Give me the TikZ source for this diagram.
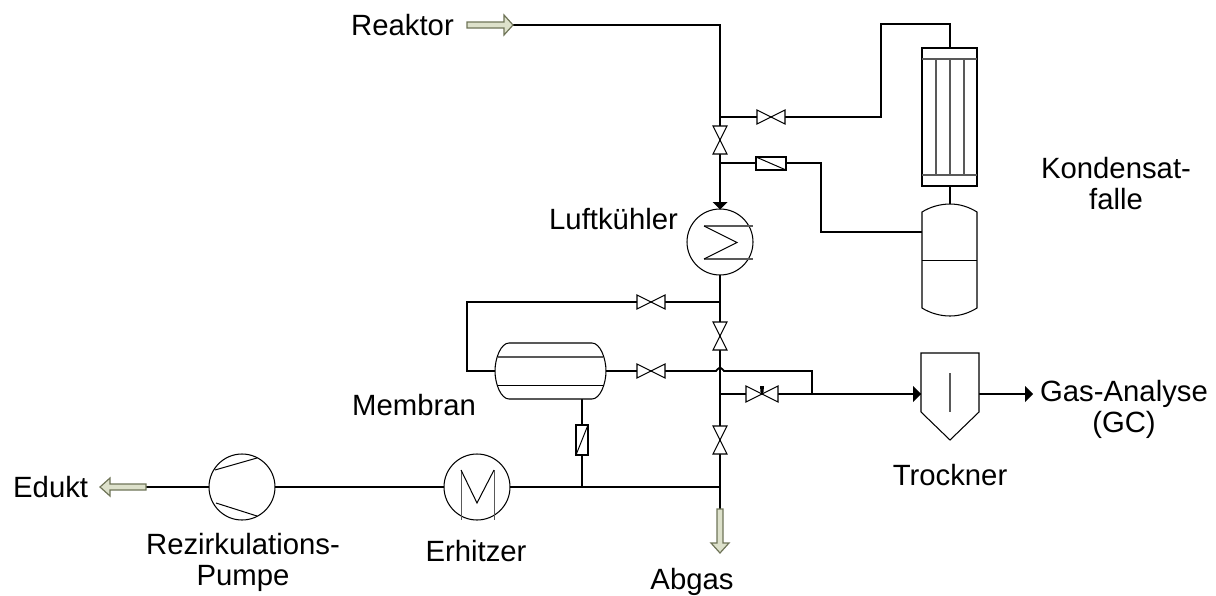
\documentclass[tikz,border=0pt]{standalone}
\usepackage{fontspec}
\setmainfont{Liberation Sans}
\definecolor{arrowfill}{HTML}{DDE1CB}
\definecolor{arrowedge}{HTML}{6F7458}
\tikzset{
  x=1pt,y=-1pt,
  pipe/.style={draw=black,line width=1.8pt},
  thin part/.style={draw=black,line width=1pt},
  grey part/.style={draw=black!65,line width=1.4pt},
  equip/.style={draw=black,line width=1.05pt,fill=white},
  feed/.style={draw=arrowedge,fill=arrowfill,line width=1.2pt},
  label/.style={font=\fontsize{29.3}{31}\selectfont,align=center,inner sep=0pt},
}
\begin{document}
\begin{tikzpicture}
\useasboundingbox (0,0) rectangle (1216,595);
% coordinates
\coordinate (Jtop) at (720,117);
\coordinate (Jcheck) at (720,163);
\coordinate (Jbypass) at (720,302);
\coordinate (Jcv) at (720,394);
\coordinate (Jbot) at (720,487);
\coordinate (Jmem) at (582,487);
\coordinate (Jout) at (812,394);
% pipes
\draw[pipe] (513,25) -- (720,25) -- (Jbot) -- (720,509);
\draw[pipe] (Jtop) -- (881,117) -- (881,24) -- (950,24) -- (950,48);
\draw[pipe] (950,186) -- (950,204);
\draw[pipe] (Jcheck) -- (821,163) -- (821,232) -- (922,232);
\draw[pipe] (Jbypass) -- (467,302) -- (467,371) -- (495,371);
\draw[pipe] (606,371) -- (716,371) .. controls (717.5,371) and (717.5,367.5) .. (720,367.5) .. controls (722.5,367.5) and (722.5,371) .. (724,371) -- (812,371) -- (Jout);
\draw[pipe] (Jcv) -- (921,394);
\draw[pipe] (979,394) -- (1026,394);
\draw[pipe] (582,399) -- (Jmem);
\draw[pipe] (146,487) -- (Jbot);
% reaktor arrow
\draw[feed] (467,22) -- (504,22) -- (504,15) -- (513,25) -- (504,35) -- (504,28) -- (467,28) -- cycle;
% edukt arrow
\draw[feed] (146,484) -- (110,484) -- (110,478) -- (100,487) -- (110,496) -- (110,490) -- (146,490) -- cycle;
% abgas arrow
\draw[feed] (717,509) -- (717,543) -- (711,543) -- (720,553) -- (729,543) -- (723,543) -- (723,509) -- cycle;
% valves
\newcommand{\hvalve}[2]{\draw[equip] (#1-14,#2-7) -- (#1+14,#2+7) -- (#1+14,#2-7) -- (#1-14,#2+7) -- cycle;}
\newcommand{\vvalve}[2]{\draw[equip] (#1-7,#2-14) -- (#1+7,#2-14) -- (#1-7,#2+14) -- (#1+7,#2+14) -- cycle;}
\hvalve{771}{117}
\vvalve{720}{140}
\hvalve{651}{302}
\vvalve{720}{336}
\hvalve{651}{371}
\vvalve{720}{440}
\draw[equip] (746,386) -- (778,402) -- (778,386) -- (746,402) -- cycle;
\fill (760,386) -- (764,386) -- (763.5,392) -- (762,395) -- (760.5,392) -- cycle;
% check valves
\draw[equip] (756,157) rectangle (786,170);
\draw[thin part] (756,157) -- (786,170);
\draw[equip] (576,425) rectangle (588,455);
\draw[thin part] (576,455) -- (588,425);
% condenser
\draw[equip] (922,48) rectangle (977,186);
\draw[grey part] (922,59) -- (977,59);
\draw[grey part] (922,175) -- (977,175);
\draw[grey part] (936,59) -- (936,175);
\draw[grey part] (950,59) -- (950,175);
\draw[grey part] (964,59) -- (964,175);
% tank
\draw[equip] (922,212) .. controls (930,207) and (940,204) .. (950,204) .. controls (960,204) and (969,207) .. (977,212) -- (977,308) .. controls (969,313) and (960,316) .. (950,316) .. controls (940,316) and (930,313) .. (922,308) -- cycle;
\draw[thin part] (922,260) -- (977,260);
% cooler
\draw[equip] (720,242) circle[radius=33];
\draw[grey part] (704,226) -- (753,226);
\draw[grey part] (704,259) -- (753,259);
\draw[thin part] (704,226) -- (737,242.5) -- (704,259);
\fill (712.5,202) -- (727.5,202) -- (720,209.5) -- cycle;
% membrane
\draw[equip] (509,343) -- (592,343) .. controls (600,343) and (606,358) .. (606,371) .. controls (606,384) and (600,399) .. (592,399) -- (509,399) .. controls (501,399) and (495,384) .. (495,371) .. controls (495,358) and (501,343) .. (509,343) -- cycle;
\draw[grey part] (498,357) -- (603,357);
\draw[thin part] (498,385) -- (603,385);
% pump
\draw[equip] (242,487) circle[radius=33];
\draw[thin part] (215,470) -- (257,458);
\draw[thin part] (216,503) -- (257,516);
% heater
\draw[equip] (477,487) circle[radius=33];
\draw[grey part,line width=1pt] (461,470) -- (461,520);
\draw[grey part,line width=1pt] (494,470) -- (494,520);
\draw[thin part] (461,470) -- (477,503) -- (494,470);
% dryer
\draw[equip] (921,353) -- (979,353) -- (979,412) -- (950,440) -- (921,412) -- cycle;
\draw[grey part] (950,373) -- (950,412);
\fill (913,386) -- (921,394) -- (913,402) -- cycle;
\fill (1025,386) -- (1033,394) -- (1025,402) -- cycle;
% labels
\node[label,anchor=west] (reaktor) at (351,25) {Reaktor};
\node[label] (kond) at (1116,184) {Kondensat-\\falle};
\node[label,anchor=west] (luft) at (549,219) {Luftkühler};
\node[label,anchor=west] (membran) at (352,405) {Membran};
\node[label,anchor=west] (edukt) at (13,487) {Edukt};
\node[label] (rez) at (243,562) {Rezirkulations-\\Pumpe};
\node[label] (erh) at (476,551) {Erhitzer};
\node[label] (abgas) at (692,582) {Abgas};
\node[label] (trock) at (950,475) {Trockner};
\node[label] (gas) at (1124,409) {Gas-Analyse\\(GC)};
\end{tikzpicture}
\end{document}
